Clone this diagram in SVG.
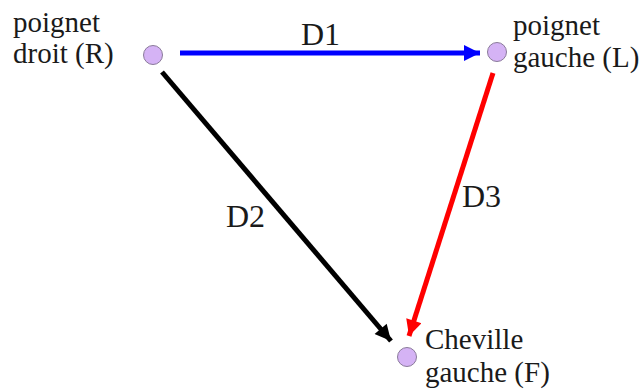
<svg xmlns="http://www.w3.org/2000/svg" width="642" height="390" viewBox="0 0 642 390">
<style>
.lbl{font-family:"Liberation Serif","Times New Roman",serif;font-size:29px;fill:#1a1a1a}
.dl{font-family:"Liberation Serif","Times New Roman",serif;font-size:32px;fill:#1a1a1a}
.node circle{fill:#d5b3f5;stroke:#8a7a9a;stroke-width:1}
.edge{stroke-width:5;fill:none}
</style>
<defs>
<marker id="ab" viewBox="0 0 10 10" refX="10" refY="5" markerWidth="3.6" markerHeight="3.2" orient="auto" markerUnits="strokeWidth"><path d="M0,0L10,5L0,10z" fill="#0000ff"/></marker>
<marker id="ak" viewBox="0 0 10 10" refX="10" refY="5" markerWidth="3.6" markerHeight="3.2" orient="auto" markerUnits="strokeWidth"><path d="M0,0L10,5L0,10z" fill="#000"/></marker>
<marker id="ar" viewBox="0 0 10 10" refX="10" refY="5" markerWidth="3.6" markerHeight="3.2" orient="auto" markerUnits="strokeWidth"><path d="M0,0L10,5L0,10z" fill="#ff0000"/></marker>
</defs>
<g id="connectors">
<line class="edge" x1="180" y1="53" x2="480" y2="53" stroke="#0000ff" marker-end="url(#ab)"/>
<line class="edge" x1="162" y1="72" x2="391" y2="341" stroke="#000" marker-end="url(#ak)"/>
<line class="edge" x1="493" y1="73" x2="409" y2="336" stroke="#ff0000" marker-end="url(#ar)"/>
<text class="dl" x="301" y="45">D1</text>
<text class="dl" x="226" y="227">D2</text>
<text class="dl" x="462" y="207">D3</text>
</g>
<g id="node-R" class="node">
<circle cx="153" cy="55" r="9.5"/>
<text class="lbl" x="13" y="32">poignet</text>
<text class="lbl" x="13" y="63">droit (R)</text>
</g>
<g id="node-L" class="node">
<circle cx="497" cy="52" r="9.5"/>
<text class="lbl" x="513" y="35">poignet</text>
<text class="lbl" x="513" y="67">gauche (L)</text>
</g>
<g id="node-F" class="node">
<circle cx="407" cy="357" r="9.5"/>
<text class="lbl" x="425" y="349">Cheville</text>
<text class="lbl" x="425" y="382">gauche (F)</text>
</g>
</svg>
